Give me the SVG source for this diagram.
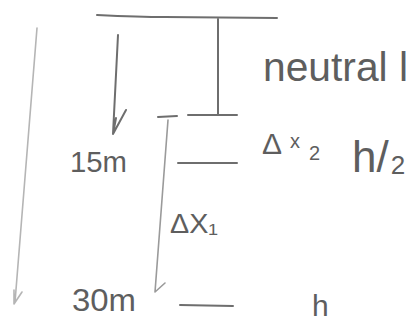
<svg xmlns="http://www.w3.org/2000/svg" width="411" height="322" viewBox="0 0 411 322">
<style>
.ln{stroke:#6e6e6e;stroke-width:2;fill:none;stroke-linecap:round;stroke-linejoin:round}
.lt{stroke:#b5b5b5;stroke-width:1.6;fill:none;stroke-linecap:round}
.tx{font-family:"Liberation Sans","DejaVu Sans",sans-serif;fill:#5e5e5e}
</style>
<rect width="411" height="322" fill="#ffffff"/>
<g id="connectors">
<path class="ln" d="M97 15 Q140 17 165 17 L277 18"/>
<path class="ln" d="M218 19 L218 115 M188 115 L237 115"/>
<path class="ln" d="M118 35 L113 134 M113 134 L126 110 M113 134 L116 118"/>
<path class="ln" d="M158 117 L177 116"/>
<path class="lt" style="stroke:#9a9a9a" d="M168 120 L155 292 M155 292 L165 283"/>
<path class="ln" d="M178 163 L237 163"/>
<path class="ln" d="M180 305 L233 306"/>
<path class="lt" d="M37 28 L15 302 M14 304 L22 292 M14 304 L14 290"/>
</g>
<g id="label-neutral"><text class="tx" x="263" y="81" font-size="40" textLength="145" lengthAdjust="spacingAndGlyphs">neutral l</text></g>
<g id="label-dx2"><text class="tx" x="262" y="154" font-size="30">Δ</text><text class="tx" x="290" y="148" font-size="20">x</text><text class="tx" x="309" y="160" font-size="20">2</text></g>
<g id="label-h2"><text class="tx" x="352" y="172" font-size="44">h/<tspan font-size="26" dx="2" dy="2">2</tspan></text></g>
<g id="label-15m"><text class="tx" x="70" y="172" font-size="30" textLength="57" lengthAdjust="spacingAndGlyphs">15m</text></g>
<g id="label-dx1"><text class="tx" x="170" y="233" font-size="28" textLength="48" lengthAdjust="spacingAndGlyphs">ΔX₁</text></g>
<g id="label-30m"><text class="tx" x="72" y="311" font-size="31" textLength="64" lengthAdjust="spacingAndGlyphs">30m</text></g>
<g id="label-h"><text class="tx" x="312" y="316" font-size="30">h</text></g>
</svg>
